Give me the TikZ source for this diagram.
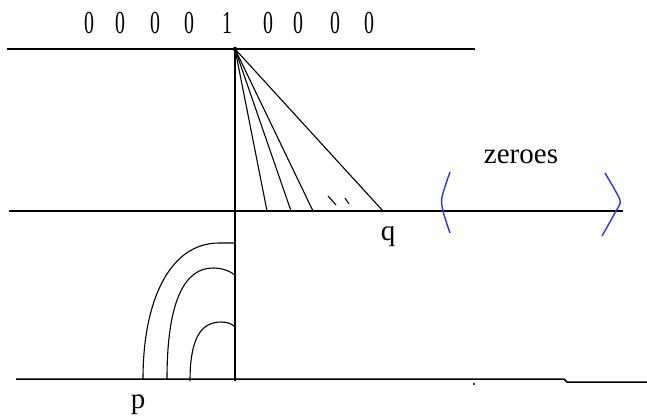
\documentclass[tikz,border=0pt]{standalone}
\usepackage{fontspec}
\setmainfont{Liberation Serif}
\usepackage{graphicx}
\usetikzlibrary{positioning}
\definecolor{bracketblue}{HTML}{3030F0}
\newcommand{\narrowbit}[1]{\scalebox{0.62}[1]{#1}}

\begin{document}
\begin{tikzpicture}[x=1pt, y=-1pt,
    rail/.style={line width=1.5pt},
    thin line/.style={line width=1.1pt},
    bit/.style={inner sep=0pt, anchor=base, font=\fontsize{32}{32}\selectfont},
    lbl/.style={inner sep=0pt, anchor=base, font=\fontsize{29}{29}\selectfont},
    bracket/.style={draw=bracketblue, line width=1.4pt}]
  \useasboundingbox (0,0) rectangle (647,416);

  % the bits on top
  \foreach \b/\xx [count=\i] in {0/89, 0/120, 0/155, 0/189, 1/227, 0/268, 0/298, 0/335, 0/369}
    \node[bit] (bit\i) at (\xx,33) {\narrowbit{\b}};

  % rails
  \coordinate (topL) at (7,49);
  \coordinate (topR) at (475,49);
  \coordinate (midL) at (9,211);
  \coordinate (midR) at (623,211);
  \coordinate (botL) at (16,379);
  \coordinate (botStep) at (564,379);
  \coordinate (botR) at (647,382);
  \coordinate (apex) at (235,49);
  \coordinate (foot) at (235,381);

  \draw[rail] (topL) -- (topR);
  \draw[rail] (midL) -- (midR);
  \draw[rail] (botL) -- (botStep) -- (567,382) -- (botR);
  \draw[rail] (apex) -- (foot);
  \fill (apex) circle (2.2);
  \fill (474,384) circle (1.2);

  % fan from the one
  \foreach \xx [count=\i] in {267, 291, 313, 383}
    \coordinate (fan\i) at (\xx,211);
  \foreach \i in {1,...,4}
    \draw[thin line] (apex) -- (fan\i);
  \draw[thin line] (328,196) -- (336,205);
  \draw[thin line] (345,198) -- (349,204);

  % arcs down to p
  \coordinate (arcA) at (143,379);
  \coordinate (arcB) at (167,379);
  \coordinate (arcC) at (190,381);
  \draw[thin line] (arcA) .. controls (143,300) and (170,243) .. (219,243) -- (235,243);
  \draw[thin line] (arcB) .. controls (167,300) and (185,268) .. (213,268)
    .. controls (222,268) and (230,271) .. (235,275);
  \draw[thin line] (arcC) .. controls (190,340) and (200,322) .. (221,322)
    .. controls (228,322) and (232,324) .. (235,327);

  % zero region
  \draw[bracket] plot[smooth] coordinates {(450,172) (442,197) (443,211) (450,233)};
  \draw[bracket] plot[smooth, tension=0.4] coordinates {(605,173) (620,200) (616,211) (602,236)};

  % labels
  \node[lbl] (zeroes) at (521,163) {zeroes};
  \node[lbl] (q) at (388,240) {q};
  \node[lbl] (p) at (138,408) {p};
\end{tikzpicture}
\end{document}
